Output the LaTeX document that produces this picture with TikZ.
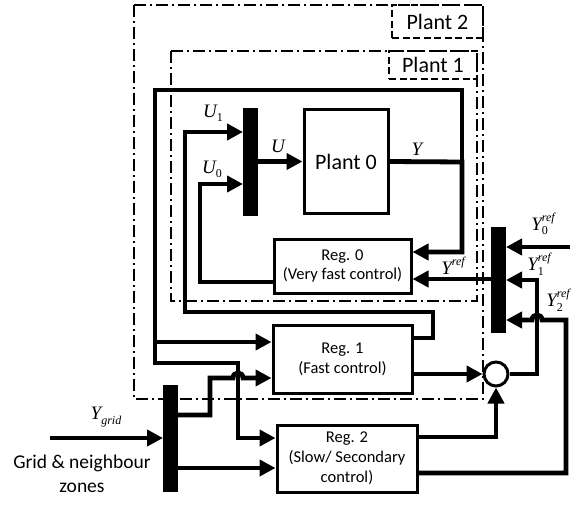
\documentclass[tikz,border=0pt]{standalone}
\usepackage{fontspec}
\setmainfont{Carlito}
\newfontfamily\tms{Liberation Serif}
\usetikzlibrary{arrows.meta,calc}
\newcommand\ivar[1]{{\tms\itshape #1}}
\newcommand\subf{\tms\fontsize{12}{12}\selectfont}
\newcommand\supf{\tms\fontsize{12}{12}\selectfont\itshape}
\newcommand\SubVar[2]{\ivar{#1}\raisebox{-0.45ex}{\subf #2}}
\newcommand\SubSup[3]{\ivar{#1}\rlap{\raisebox{-0.5ex}{\subf #2}}\raisebox{1.0ex}{\supf #3}}
\newcommand\SupVar[2]{\ivar{#1}\raisebox{1.0ex}{\supf #2}}
\newcommand\SubIt[2]{\ivar{#1}\raisebox{-0.5ex}{\supf #2}}
\begin{document}
\begin{tikzpicture}[x=1pt,y=-1pt,
  box/.style={draw,line width=3pt,inner sep=0pt,align=center,font=\fontsize{16.5}{19.8}\selectfont},
  plantbox/.style={draw,line width=3pt,inner sep=0pt,font=\fontsize{22}{24}\selectfont},
  bus/.style={fill=black,inner sep=0pt,outer sep=0pt,minimum width=15pt},
  conn/.style={line width=4.8pt},
  arr/.style={-{Triangle[length=16pt,width=16pt]}},
  frame/.style={line width=1.4pt,dash pattern=on 12pt off 4pt on 2pt off 4pt},
  lblbox/.style={draw,line width=1.4pt,dash pattern=on 7pt off 3.5pt,inner sep=0pt,font=\fontsize{22}{24}\selectfont},
  lab/.style={inner sep=0pt,font=\fontsize{19}{21}\selectfont}]
\useasboundingbox (0,0) rectangle (578,508);
% frames
\draw[frame] (134,5) rectangle (483,399);
\draw[frame] (171,51) rectangle (477,301);
\node[lblbox,minimum width=91pt,minimum height=33pt] (p2) at (437.5,21.5) {Plant 2};
\node[lblbox,minimum width=88pt,minimum height=28pt] (p1) at (433,65) {Plant 1};
% blocks
\node[plantbox,minimum width=84pt,minimum height=103pt] (plant0) at (346,161.5) {Plant 0};
\node[box,minimum width=137pt,minimum height=54pt] (reg0) at (342.5,266) {Reg. 0\\(Very fast control)};
\node[box,minimum width=139pt,minimum height=68pt] (reg1) at (342.5,359) {Reg. 1\\(Fast control)};
\node[box,minimum width=140pt,minimum height=67pt] (reg2) at (347,458.5) {Reg. 2\\(Slow/ Secondary\\control)};
\node[bus,minimum height=108pt] (bus1) at (250.5,162) {};
\node[bus,minimum height=106pt] (bus2) at (498.5,280) {};
\node[bus,minimum height=107pt] (bus3) at (170.5,438.5) {};
\node[draw,circle,line width=3pt,minimum size=24pt,inner sep=0pt] (circ) at (496,374) {};
% coordinates
\coordinate (c1) at (462,162);
\coordinate (tr) at (462,90);
\coordinate (tl) at (155,90);
\coordinate (r1a) at (155,342);
\coordinate (lb) at (155,363);
\coordinate (lc) at (238,363);
\coordinate (r2a) at (238,438);
\coordinate (r0a) at (462,252);
\coordinate (u1a) at (433,338);
\coordinate (u1b) at (433,312);
\coordinate (u1c) at (185,312);
\coordinate (u1d) at (185,132);
\coordinate (u0a) at (200,282);
\coordinate (u0b) at (200,184);
\coordinate (ry) at (480,279);
\coordinate (y0s) at (570,247);
\coordinate (y1a) at (537,374);
\coordinate (y1b) at (537,280);
\coordinate (y2a) at (566,473);
\coordinate (y2b) at (566,320);
\coordinate (h2a) at (542,320);
\coordinate (h2b) at (532,320);
\coordinate (r2o) at (450,437);
\coordinate (yg) at (50,438);
\coordinate (b3a) at (210,415);
\coordinate (b3b) at (210,378);
\coordinate (h1a) at (233,378);
\coordinate (h1b) at (243,378);
\coordinate (b3c) at (200,468);
% connectors
\draw[conn,arr] (plant0.west -| bus1.east) -- (plant0.west);
\draw[conn,arr] (plant0.east) -- (c1) -- (r0a) -- (reg0.east |- r0a);
\draw[conn,arr] (c1) -- (tr) -- (tl) -- (r1a) -- (reg1.west |- r1a);
\draw[conn,arr] (r1a) -- (lb) -- (lc) -- (r2a) -- (reg2.west |- r2a);
\draw[conn,arr] (reg1.east |- u1a) -- (u1a) -- (u1b) -- (u1c) -- (u1d) -- (bus1.west |- u1d);
\draw[conn,arr] (reg0.west |- u0a) -- (u0a) -- (u0b) -- (bus1.west |- u0b);
\draw[conn,arr] (bus2.west |- ry) -- (reg0.east |- ry);
\draw[conn,arr] (y0s) -- (bus2.east |- y0s);
\draw[conn,arr] (circ.east) -- (y1a) -- (y1b) -- (bus2.east |- y1b);
\draw[conn,arr] (reg2.east |- y2a) -- (y2a) -- (y2b) -- (h2a) .. controls (542,313.3) and (532,313.3) .. (h2b) -- (bus2.east |- y2b);
\draw[conn,arr] (reg1.east |- circ) -- (circ.west);
\draw[conn,arr] (reg2.east |- r2o) -| (circ.south);
\draw[conn,arr] (yg) -- (bus3.west |- yg);
\draw[conn,arr] (bus3.east |- b3a) -- (b3a) -- (b3b) -- (h1a) .. controls (233,371.3) and (243,371.3) .. (h1b) -- (reg1.west |- b3b);
\draw[conn,arr] (bus3.east |- b3c) -- (reg2.west |- b3c);
% labels
\node[lab] (lu1) at (213,113) {\SubVar{U}{1}};
\node[lab] (lu0) at (212,169) {\SubVar{U}{0}};
\node[lab] (lu) at (278,146) {\ivar{U}};
\node[lab] (ly) at (417,149) {\ivar{Y}};
\node[lab] (lyr) at (453,266) {\SupVar{Y}{ref}};
\node[lab] (ly0) at (543,224) {\SubSup{Y}{0}{ref}};
\node[lab] (ly1) at (539,264) {\SubSup{Y}{1}{ref}};
\node[lab] (ly2) at (558,300) {\SubSup{Y}{2}{ref}};
\node[lab] (lyg) at (106,417) {\SubIt{Y}{grid}};
\node[align=center,inner sep=0pt,font=\fontsize{19.5}{24}\selectfont] (grid) at (82,474) {Grid \& neighbour\\zones};
\end{tikzpicture}
\end{document}
